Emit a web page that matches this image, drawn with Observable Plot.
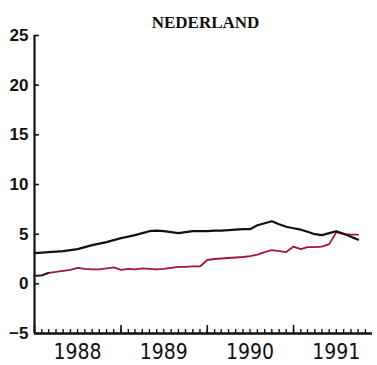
<!DOCTYPE html>
<html>
<head>
<meta charset="utf-8">
<script src="https://cdn.jsdelivr.net/npm/d3@7"></script>
<script src="https://cdn.jsdelivr.net/npm/@observablehq/plot@0.6"></script>
<style>
  html, body { margin: 0; padding: 0; background: #fff; }
</style>
</head>
<body>
<div id="chart"></div>
<script>
const title = "NEDERLAND";
const startMonth = "1988-01";
// monthly values, Jan 1988 onwards
const blackSeries = [3.1, 3.15, 3.2, 3.25, 3.3, 3.4, 3.5, 3.7, 3.9, 4.05, 4.2, 4.4,
  4.6, 4.75, 4.9, 5.1, 5.3, 5.35, 5.3, 5.2, 5.1, 5.2, 5.3, 5.3,
  5.3, 5.35, 5.35, 5.4, 5.45, 5.5, 5.5, 5.9, 6.1, 6.3, 6.0, 5.75,
  5.6, 5.45, 5.25, 5.0, 4.9, 5.1, 5.3, 5.05, 4.75, 4.45];
const redSeries = [0.8, 0.85, 1.1, 1.2, 1.3, 1.4, 1.6, 1.5, 1.45, 1.45, 1.55, 1.65,
  1.4, 1.5, 1.45, 1.55, 1.5, 1.45, 1.5, 1.6, 1.7, 1.7, 1.75, 1.75,
  2.4, 2.5, 2.55, 2.6, 2.65, 2.7, 2.8, 2.95, 3.2, 3.4, 3.3, 3.2,
  3.75, 3.5, 3.7, 3.7, 3.75, 4.0, 5.2, 5.0, 4.95, 4.95];
const yTicks = [-5, 0, 5, 10, 15, 20, 25];
const yearLabels = ["1988", "1989", "1990", "1991"];

const start = new Date(startMonth + "-01T00:00:00Z");
const toDate = i => d3.utcMonth.offset(start, i);
const black = blackSeries.map((v, i) => ({date: toDate(i), value: v}));
const red = redSeries.map((v, i) => ({date: toDate(i), value: v}));

const xStart = start;
const xEnd = new Date("1991-12-01T00:00:00Z");
const monthTicks = d3.utcMonth.range(xStart, xEnd);
const yearTicks = yearLabels.map(y => new Date(`${y}-01-01T00:00:00Z`));
const yearLabelPos = yearLabels.map(y => new Date(`${y}-07-01T00:00:00Z`));
const noText = () => "";

const plot = Plot.plot({
  width: 377,
  height: 365,
  marginLeft: 34,
  marginRight: 5,
  marginTop: 35,
  marginBottom: 32,
  style: {background: "#fff", color: "#111"},
  x: {type: "utc", domain: [xStart, xEnd]},
  y: {domain: [-5, 25]},
  marks: [
    // inward y ticks
    Plot.axisY({ticks: yTicks, tickSize: 5, dx: 5, tickFormat: noText, stroke: "#111", strokeWidth: 1.6, label: null}),
    Plot.axisY({ticks: yTicks, tickSize: 0, tickPadding: 6, fontSize: 17, fontWeight: "bold", fontFamily: "Liberation Sans, Arial, sans-serif", label: null}),
    // inward x ticks: monthly short, yearly tall
    Plot.axisX({ticks: monthTicks, tickSize: 4, dy: -4, tickFormat: noText, stroke: "#111", strokeWidth: 1.4, label: null}),
    Plot.axisX({ticks: yearTicks, tickSize: 8, dy: -8, tickFormat: noText, stroke: "#111", strokeWidth: 1.6, label: null}),
    Plot.axisX({ticks: yearLabelPos, tickSize: 0, tickPadding: 11, tickFormat: "%Y", fontSize: 21, fontFamily: "DejaVu Sans Condensed, DejaVu Sans, sans-serif", label: null}),
    Plot.ruleX([xStart], {y1: -5, y2: 25, stroke: "#111", strokeWidth: 2.2}),
    Plot.ruleY([-5], {stroke: "#111", strokeWidth: 2.4}),
    Plot.line(red, {x: "date", y: "value", stroke: "#a3143f", strokeWidth: 1.8}),
    Plot.line(red.slice(0, 3), {x: "date", y: "value", stroke: "#222", strokeWidth: 1.8}),
    Plot.line(black, {x: "date", y: "value", stroke: "#111", strokeWidth: 2.2}),
    Plot.text([title], {frameAnchor: "top", dy: -20, dx: 2, text: d => d, fontSize: 17, fontWeight: "bold", fontFamily: "Liberation Serif, serif", fill: "#111"})
  ]
});
document.getElementById("chart").appendChild(plot);
</script>
</body>
</html>
